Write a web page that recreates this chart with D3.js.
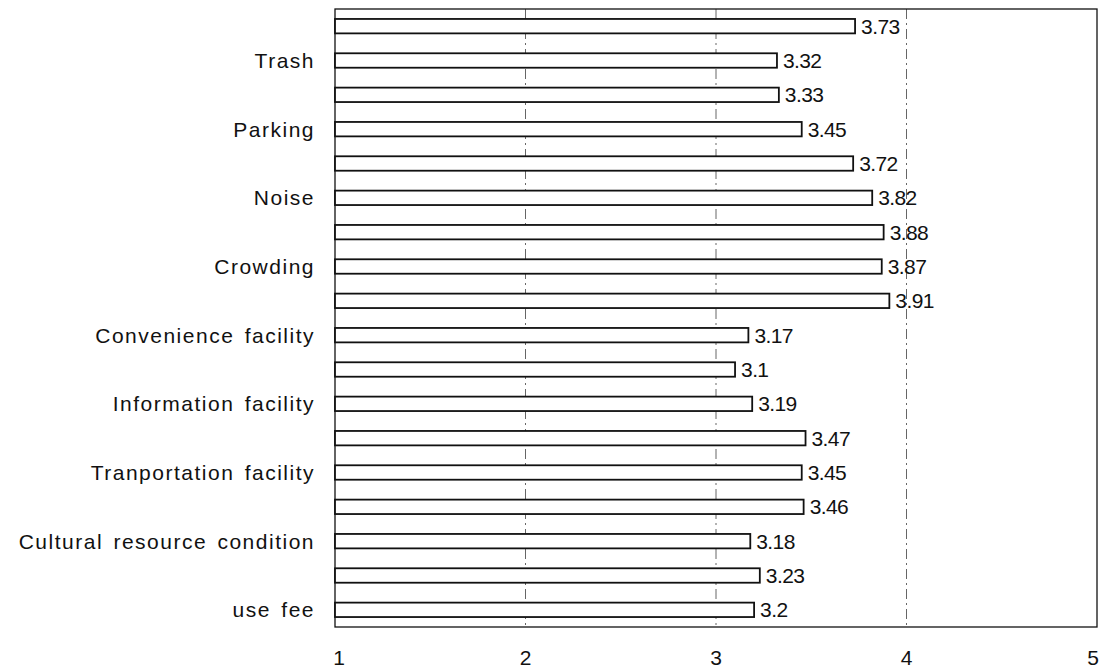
<!DOCTYPE html>
<html>
<head>
<meta charset="utf-8">
<script src="https://cdn.jsdelivr.net/npm/d3@7"></script>
<style>
  body { margin: 0; background: #fff; }
  text { font-family: "Liberation Sans", Arial, sans-serif; fill: #111; }
</style>
</head>
<body>
<svg id="chart" width="1100" height="669"></svg>
<script>
// bars top to bottom, only every other one carries a label
const labels = ['', 'Trash', '', 'Parking', '', 'Noise', '', 'Crowding', '',
  'Convenience facility', '', 'Information facility', '', 'Tranportation facility',
  '', 'Cultural resource condition', '', 'use fee']
const values = [3.73, 3.32, 3.33, 3.45, 3.72, 3.82, 3.88, 3.87, 3.91,
  3.17, 3.1, 3.19, 3.47, 3.45, 3.46, 3.18, 3.23, 3.2]
const xTicks = [1, 2, 3, 4, 5]

const svg = d3.select('#chart')
const plotL = 335, plotR = 1097, plotT = 9, plotB = 627

const x = d3.scaleLinear().domain([1, 5]).range([plotL, plotR])
const y = d3.scaleBand().domain(d3.range(values.length)).range([plotT, plotB]).paddingInner(0.58).paddingOuter(0.29)

// dashed grid
svg.append('g')
  .selectAll('line')
  .data(xTicks.slice(1, -1))
  .join('line')
    .attr('x1', d => x(d)).attr('x2', d => x(d))
    .attr('y1', plotT).attr('y2', plotB)
    .attr('stroke', '#666')
    .attr('stroke-width', 1)
    .attr('stroke-dasharray', '10,4,2,4')

// frame
svg.append('rect')
  .attr('x', plotL).attr('y', plotT)
  .attr('width', plotR - plotL).attr('height', plotB - plotT)
  .attr('fill', 'none').attr('stroke', '#111').attr('stroke-width', 1.3)

// bars
svg.append('g')
  .selectAll('rect')
  .data(values)
  .join('rect')
    .attr('x', x(1))
    .attr('y', (d, i) => y(i))
    .attr('width', d => x(d) - x(1))
    .attr('height', y.bandwidth())
    .attr('fill', '#fff')
    .attr('stroke', '#111')
    .attr('stroke-width', 1.8)

// value labels
svg.append('g')
  .selectAll('text')
  .data(values)
  .join('text')
    .attr('x', d => x(d) + 6)
    .attr('y', (d, i) => y(i) + y.bandwidth() / 2)
    .attr('dy', '0.36em')
    .attr('font-size', 21)
    .attr('letter-spacing', -0.6)
    .text(d => d)

// category labels
svg.append('g')
  .selectAll('text')
  .data(labels)
  .join('text')
    .attr('x', 315)
    .attr('y', (d, i) => y(i) + y.bandwidth() / 2)
    .attr('dy', '0.36em')
    .attr('text-anchor', 'end')
    .attr('font-size', 21)
    .attr('letter-spacing', 1.5)
    .attr('word-spacing', 3)
    .text(d => d)

// x tick labels, kept inside the window at both ends
svg.append('g')
  .selectAll('text')
  .data(xTicks)
  .join('text')
    .attr('x', d => Math.max(339, Math.min(1093, x(d))))
    .attr('y', 657)
    .attr('dy', '0.36em')
    .attr('text-anchor', 'middle')
    .attr('font-size', 21)
    .text(d => d)
</script>
</body>
</html>
